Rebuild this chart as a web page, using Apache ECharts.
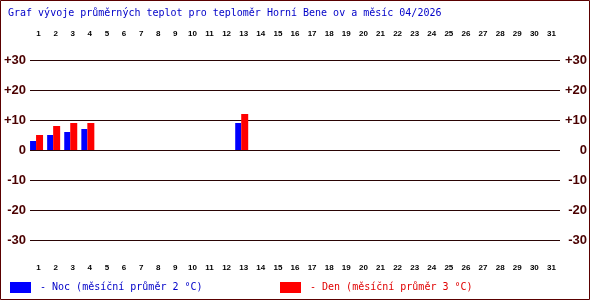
<!DOCTYPE html>
<html>
<head>
<meta charset="utf-8">
<script src="https://cdn.jsdelivr.net/npm/echarts@6/dist/echarts.min.js"></script>
<style>
html,body{margin:0;padding:0;background:#fff;}
#c{width:590px;height:300px;}
</style>
</head>
<body>
<div id="c"></div>
<script>
var titleText = 'Graf vývoje průměrných teplot pro teploměr Horní Bene ov a měsíc 04/2026';
var days = ['1','2','3','4','5','6','7','8','9','10','11','12','13','14','15','16','17','18','19','20','21','22','23','24','25','26','27','28','29','30','31'];
var nightValues = [3,5,6,7,null,null,null,null,null,null,null,null,9,null,null,null,null,null,null,null,null,null,null,null,null,null,null,null,null,null,null];
var dayValues = [5,8,9,9,null,null,null,null,null,null,null,null,12,null,null,null,null,null,null,null,null,null,null,null,null,null,null,null,null,null,null];
var nightLegend = '- Noc (měsíční průměr 2 °C)';
var dayLegend = '- Den (měsíční průměr 3 °C)';
var yTicks = [-30,-20,-10,0,10,20,30];

var chart = echarts.init(document.getElementById('c'), null, {renderer:'canvas'});
var labelColor = '#4a0000';
function fmtY(v){ return v > 0 ? '+' + v : String(v); }
var xLabel = {fontFamily:'Liberation Sans, Arial', fontSize:8, fontWeight:'bold', color:'#000'};
var monoFont = '10px "DejaVu Sans Mono", "Liberation Mono", monospace';
chart.setOption({
  animation:false,
  backgroundColor:'#ffffff',
  grid:[
    {left:30, right:30, top:60, bottom:60},
    {left:28, right:32, top:60, bottom:60}
  ],
  xAxis:[
    {type:'category', data:days, gridIndex:0, position:'top', axisLine:{show:false}, axisTick:{show:false},
     axisLabel:Object.assign({margin:22, interval:0}, xLabel)},
    {type:'category', data:days, gridIndex:0, position:'bottom', axisLine:{show:false}, axisTick:{show:false},
     axisLabel:Object.assign({margin:24, interval:0}, xLabel)},
    {type:'category', data:days, gridIndex:1, show:false}
  ],
  yAxis:[
    {type:'value', gridIndex:0, min:yTicks[0], max:yTicks[yTicks.length-1], interval:10, position:'left',
     axisLine:{show:false}, axisTick:{show:false},
     splitLine:{show:true, lineStyle:{color:'#2a0505', width:1}},
     axisLabel:{margin:4, formatter:fmtY, fontFamily:'Liberation Sans, Arial', fontSize:13, fontWeight:'bold', color:labelColor}},
    {type:'value', gridIndex:0, min:yTicks[0], max:yTicks[yTicks.length-1], interval:10, position:'right',
     axisLine:{show:false}, axisTick:{show:false}, splitLine:{show:false},
     axisLabel:{margin:27, align:'right', formatter:fmtY, fontFamily:'Liberation Sans, Arial', fontSize:13, fontWeight:'bold', color:labelColor}},
    {type:'value', gridIndex:1, min:yTicks[0], max:yTicks[yTicks.length-1], show:false}
  ],
  series:[
    {type:'bar', name:'Noc', xAxisIndex:2, yAxisIndex:2, data:nightValues, barWidth:6, barGap:'0%',
     itemStyle:{color:'#0000ff'}, z:3},
    {type:'bar', name:'Den', xAxisIndex:2, yAxisIndex:2, data:dayValues, barWidth:7, barGap:'0%',
     itemStyle:{color:'#ff0000'}, z:3}
  ],
  graphic:[
    {type:'rect', shape:{x:0.5, y:0.5, width:589, height:299}, style:{fill:null, stroke:'#5a0000', lineWidth:1}, silent:true},
    {type:'text', left:8, top:8, style:{text:titleText, font:monoFont, fill:'#0000c8'}},
    {type:'rect', shape:{x:10, y:282, width:21, height:11}, style:{fill:'#0000ff'}},
    {type:'text', left:40, top:282, style:{text:nightLegend, font:monoFont, fill:'#0000c8'}},
    {type:'rect', shape:{x:280, y:282, width:21, height:11}, style:{fill:'#ff0000'}},
    {type:'text', left:310, top:282, style:{text:dayLegend, font:monoFont, fill:'#e00000'}}
  ]
});
</script>
</body>
</html>
